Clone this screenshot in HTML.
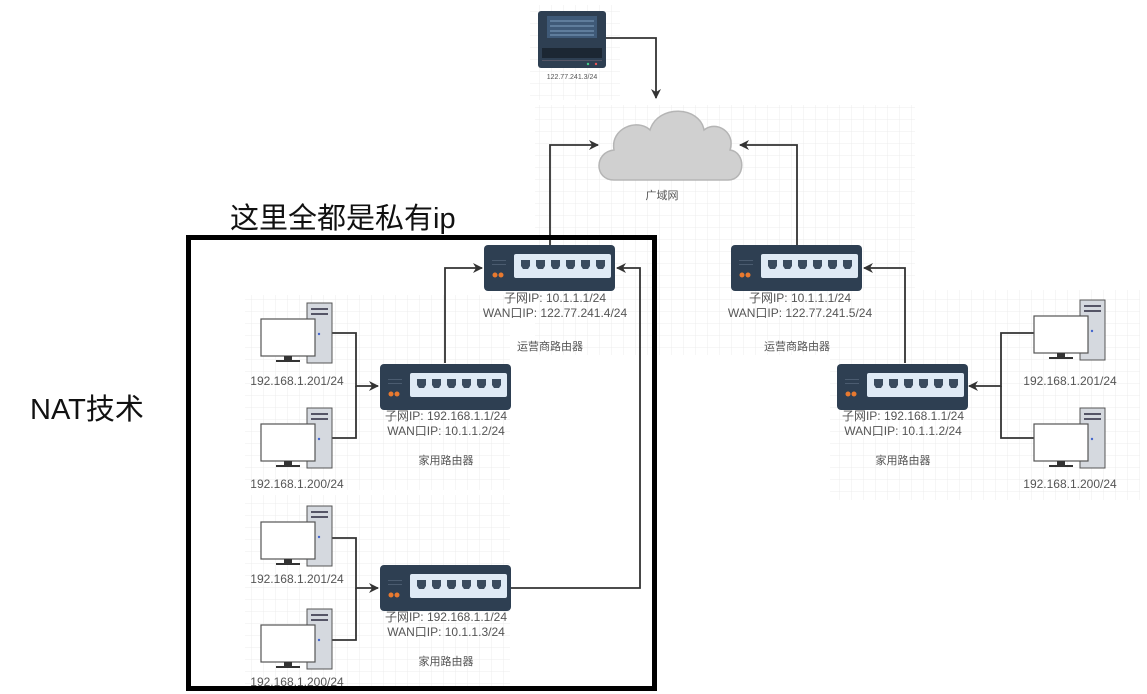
<!DOCTYPE html>
<html><head><meta charset="utf-8"><style>
html,body{margin:0;padding:0;background:#fff;}
svg{display:block;}
text{font-family:"Liberation Sans","Noto Sans CJK SC",sans-serif;fill:#555;}
</style></head><body>
<svg width="1147" height="694" viewBox="0 0 1147 694" xmlns="http://www.w3.org/2000/svg">
<defs>
<pattern id="g" width="12" height="12" patternUnits="userSpaceOnUse"><path d="M12 0V12H0" fill="none" stroke="#ececec" stroke-width="1"/></pattern>
<marker id="a" markerWidth="10" markerHeight="10" refX="9" refY="5" orient="auto" markerUnits="userSpaceOnUse"><path d="M0,0 L10,5 L0,10 L3,5 z" fill="#333"/></marker>
<g id="router">
<rect x="0" y="0" width="131" height="46" rx="4" fill="#2e3f52"/>
<rect x="30" y="9" width="97" height="24" rx="2" fill="#dfeaf5"/>
<g fill="#3a4b5e">
<path d="M37 15h9v6l-2 3h-5l-2-3z"/><path d="M52 15h9v6l-2 3h-5l-2-3z"/><path d="M67 15h9v6l-2 3h-5l-2-3z"/><path d="M82 15h9v6l-2 3h-5l-2-3z"/><path d="M97 15h9v6l-2 3h-5l-2-3z"/><path d="M112 15h9v6l-2 3h-5l-2-3z"/>
</g>
<circle cx="11" cy="30" r="2.5" fill="#e8792f"/><circle cx="17" cy="30" r="2.5" fill="#e8792f"/>
<rect x="8" y="15" width="14" height="1" fill="#4b5c70"/><rect x="8" y="19" width="14" height="1" fill="#4b5c70"/>
</g>
<g id="pc">
<rect x="47" y="0" width="25" height="60" fill="#d5d9df" stroke="#555" stroke-width="1"/>
<rect x="51" y="5" width="17" height="2" fill="#556"/><rect x="51" y="10" width="17" height="2" fill="#556"/>
<rect x="1" y="16" width="54" height="37" fill="#fff" stroke="#555" stroke-width="1.2"/>
<circle cx="59" cy="31" r="1.2" fill="#46c"/>
<rect x="24" y="53" width="8" height="4" fill="#333"/><rect x="16" y="57" width="24" height="2" fill="#333"/>
</g>
</defs>

<rect x="530" y="5" width="90" height="95" fill="url(#g)"/>
<rect x="535" y="105" width="380" height="250" fill="url(#g)"/>
<rect x="245" y="295" width="265" height="195" fill="url(#g)"/>
<rect x="245" y="495" width="265" height="195" fill="url(#g)"/>
<rect x="830" y="290" width="310" height="210" fill="url(#g)"/>

<rect x="538" y="11" width="68" height="57" rx="3" fill="#2e3f52"/>
<rect x="547" y="16" width="50" height="22" fill="#3f5a78"/>
<g stroke="#7fa0c0" stroke-width="1"><line x1="550" y1="21" x2="594" y2="21"/><line x1="550" y1="26" x2="594" y2="26"/><line x1="550" y1="31" x2="594" y2="31"/><line x1="550" y1="35" x2="594" y2="35"/></g>
<rect x="542" y="48" width="60" height="10" fill="#1c2733"/>
<rect x="542" y="60" width="60" height="1" fill="#556"/>
<circle cx="588" cy="64" r="1.2" fill="#4c8"/><circle cx="596" cy="64" r="1.2" fill="#e55"/>
<text x="572" y="79" font-size="7" text-anchor="middle">122.77.241.3/24</text>

<path d="M614 180 C594 180 594 152 614 150 C610 128 638 118 650 130 C658 104 700 106 704 130 C716 120 736 132 730 150 C746 152 746 180 728 180 Z" fill="#d0d0d0" stroke="#b5b5b5" stroke-width="1.5"/>
<text x="662" y="199" font-size="11" text-anchor="middle">广域网</text>

<g stroke="#333" stroke-width="1.8" fill="none" marker-end="url(#a)">
<path d="M606 38 H656 V98"/>
<path d="M550 245 V145 H598"/>
<path d="M797 245 V145 H740"/>
<path d="M445 363 V268 H482"/>
<path d="M510 588 H640 V268 H617"/>
<path d="M905 363 V268 H864"/>
<path d="M332 333 H356 V386 H378"/>
<path d="M332 538 H356 V588 H378"/>
<path d="M1034 333 H1001 V386 H969"/>
</g>
<g stroke="#333" stroke-width="1.8" fill="none">
<path d="M332 438 H356 V386"/>
<path d="M332 640 H356 V588"/>
<path d="M1034 438 H1001 V386"/>
</g>

<use href="#router" x="484" y="245"/>
<use href="#router" x="731" y="245"/>
<use href="#router" x="380" y="364"/>
<use href="#router" x="380" y="565"/>
<use href="#router" x="837" y="364"/>

<g font-size="12">
<text x="555" y="302" text-anchor="middle">子网IP:   10.1.1.1/24</text>
<text x="555" y="317" text-anchor="middle">WAN口IP:  122.77.241.4/24</text>
<text x="550" y="350" text-anchor="middle" font-size="11">运营商路由器</text>
<text x="800" y="302" text-anchor="middle">子网IP:   10.1.1.1/24</text>
<text x="800" y="317" text-anchor="middle">WAN口IP:  122.77.241.5/24</text>
<text x="797" y="350" text-anchor="middle" font-size="11">运营商路由器</text>
<text x="446" y="420" text-anchor="middle">子网IP:   192.168.1.1/24</text>
<text x="446" y="435" text-anchor="middle">WAN口IP:  10.1.1.2/24</text>
<text x="446" y="464" text-anchor="middle" font-size="11">家用路由器</text>
<text x="446" y="621" text-anchor="middle">子网IP:   192.168.1.1/24</text>
<text x="446" y="636" text-anchor="middle">WAN口IP:  10.1.1.3/24</text>
<text x="446" y="665" text-anchor="middle" font-size="11">家用路由器</text>
<text x="903" y="420" text-anchor="middle">子网IP:   192.168.1.1/24</text>
<text x="903" y="435" text-anchor="middle">WAN口IP:  10.1.1.2/24</text>
<text x="903" y="464" text-anchor="middle" font-size="11">家用路由器</text>
</g>

<use href="#pc" x="260" y="303"/>
<use href="#pc" x="260" y="408"/>
<use href="#pc" x="260" y="506"/>
<use href="#pc" x="260" y="609"/>
<use href="#pc" x="1033" y="300"/>
<use href="#pc" x="1033" y="408"/>
<g font-size="12">
<text x="297" y="385" text-anchor="middle">192.168.1.201/24</text>
<text x="297" y="488" text-anchor="middle">192.168.1.200/24</text>
<text x="297" y="583" text-anchor="middle">192.168.1.201/24</text>
<text x="297" y="686" text-anchor="middle">192.168.1.200/24</text>
<text x="1070" y="385" text-anchor="middle">192.168.1.201/24</text>
<text x="1070" y="488" text-anchor="middle">192.168.1.200/24</text>
</g>

<rect x="188.5" y="237.5" width="466" height="451" fill="none" stroke="#000" stroke-width="5"/>
<text x="230" y="228" font-size="29" style="fill:#111">这里全都是私有ip</text>
<text x="30" y="419" font-size="29" style="fill:#111">NAT技术</text>
</svg>
</body></html>
